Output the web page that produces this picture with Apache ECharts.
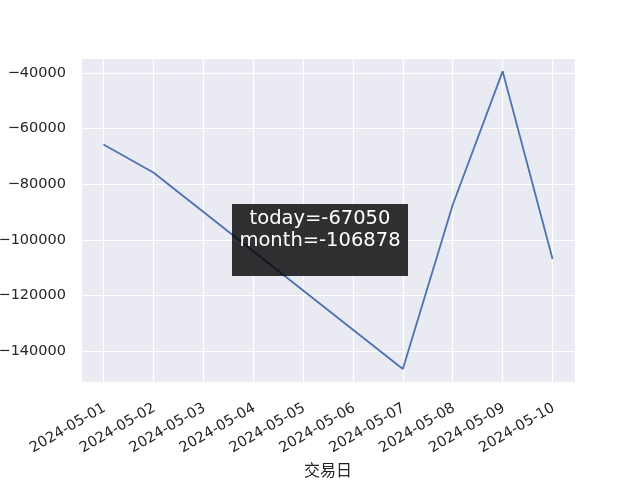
<!DOCTYPE html>
<html>
<head>
<meta charset="utf-8">
<script src="https://cdn.jsdelivr.net/npm/echarts@6/dist/echarts.min.js"></script>
<style>html,body{margin:0;padding:0;background:#fff}#c{width:640px;height:480px}</style>
</head>
<body>
<div id="c"></div>
<script>
var dates = ['2024-05-01', '2024-05-02', '2024-05-07', '2024-05-08', '2024-05-09', '2024-05-10'];
var values = [-65700, -75800, -146450, -87400, -39400, -106878];
var xAxisName = '交易日';
var annotationLines = ['today=-67050', 'month=-106878'];

var DAY = 86400000;
function toTs(s) { var p = s.split('-'); return Date.UTC(+p[0], +p[1] - 1, +p[2]); }
var seriesData = dates.map(function (d, i) { return [toTs(d), values[i]]; });
var xMin = toTs(dates[0]) - 0.45 * DAY;
var xMax = toTs(dates[dates.length - 1]) + 0.45 * DAY;
function pad(n) { return (n < 10 ? '0' : '') + n; }
function fmtDate(v) { var d = new Date(v); return d.getUTCFullYear() + '-' + pad(d.getUTCMonth() + 1) + '-' + pad(d.getUTCDate()); }

var chart = echarts.init(document.getElementById('c'), null, { renderer: 'canvas' });
var font = 'DejaVu Sans';
chart.setOption({
  useUTC: true,
  animation: false,
  backgroundColor: '#ffffff',
  grid: { left: 81, right: 65, top: 58, bottom: 98, show: true, backgroundColor: '#eaeaf2', borderWidth: 0, containLabel: false, outerBoundsMode: 'none' },
  xAxis: {
    type: 'time',
    min: xMin, max: xMax,
    minInterval: DAY, maxInterval: DAY,
    name: xAxisName, nameLocation: 'middle', nameGap: 78,
    nameTextStyle: { fontFamily: 'Noto Sans CJK SC', fontSize: 16, color: '#222' },
    axisLine: { show: false }, axisTick: { show: false },
    splitLine: { show: true, lineStyle: { color: '#ffffff', width: 1.2 } },
    axisLabel: {
      rotate: 30, fontFamily: font, fontSize: 14.6, color: '#262626', margin: 17,
      align: 'right', verticalAlign: 'top', padding: [0, 3, 0, 0],
      showMinLabel: false, showMaxLabel: false, hideOverlap: false,
      formatter: function (v) { return fmtDate(v); }
    }
  },
  yAxis: {
    type: 'value',
    min: -151150, max: -34600, splitNumber: 6,
    axisLine: { show: false }, axisTick: { show: false },
    splitLine: { show: true, lineStyle: { color: '#ffffff', width: 1.2 } },
    axisLabel: {
      fontFamily: font, fontSize: 14.5, color: '#262626', margin: 15,
      showMinLabel: false, showMaxLabel: false,
      formatter: function (v) { return String(v).replace('-', '\u2212'); }
    }
  },
  series: [{
    type: 'line', data: seriesData, showSymbol: false, symbol: 'none',
    lineStyle: { color: '#4c72b0', width: 1.8 }, z: 2
  }],
  graphic: [{
    type: 'group', left: 232, top: 204, z: 100,
    children: [
      { type: 'rect', z: 100, shape: { x: 0, y: 0, width: 176, height: 72 }, style: { fill: 'rgba(0,0,0,0.8)' } },
      { type: 'text', z: 101, style: { x: 88, y: 4, text: annotationLines.join('\n'), fill: '#ffffff', font: '19.5px "DejaVu Sans"', align: 'center', verticalAlign: 'top', lineHeight: 22 } }
    ]
  }]
});
</script>
</body>
</html>
